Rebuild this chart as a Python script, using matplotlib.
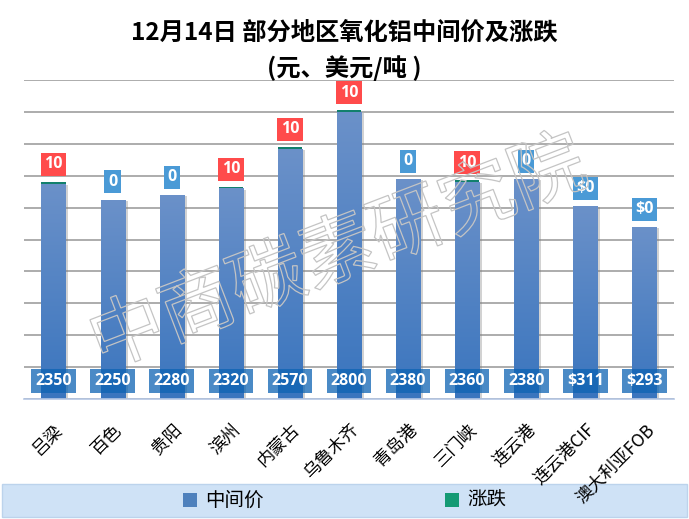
import matplotlib
matplotlib.use('Agg')
import matplotlib.pyplot as plt
import numpy as np
from matplotlib.patches import Rectangle, PathPatch
from matplotlib.textpath import TextPath
from matplotlib.font_manager import FontProperties
from matplotlib.transforms import Affine2D, ScaledTranslation
from matplotlib.colors import LinearSegmentedColormap
import matplotlib.patheffects as pe

CJK = ['Noto Sans CJK SC', 'DejaVu Sans']
NUM = ['Open Sans', 'DejaVu Sans']

categories = ['吕梁', '百色', '贵阳', '滨州', '内蒙古', '乌鲁木齐', '青岛港',
              '三门峡', '连云港', '连云港CIF', '澳大利亚FOB']
mid_values = [2350, 2250, 2280, 2320, 2570, 2800, 2380, 2360, 2380, 2210, 2080]
mid_labels = ['2350', '2250', '2280', '2320', '2570', '2800', '2380', '2360',
              '2380', '$311', '$293']
change_values = [10, 0, 0, 10, 10, 10, 0, 10, 0, 0, 0]
change_labels = ['10', '0', '0', '10', '10', '10', '0', '10', '0', '$0', '$0']
title_line1 = '12月14日 部分地区氧化铝中间价及涨跌'
title_line2 = '(元、美元/吨 )'
legend_labels = ['中间价', '涨跌']
watermark = '中商碳素研究院'

W, H = 689, 519
fig = plt.figure(figsize=(W / 100, H / 100), dpi=100)
fig.patch.set_facecolor('white')
ax = fig.add_axes([24 / W, 1 - 399 / H, 650 / W, 319 / H])
ax.set_zorder(1)
ax.patch.set_alpha(0)

x = np.arange(len(categories))
ymin, ymax = 1000, 3000

ax.set_yticks(np.arange(ymin, ymax + 1, 200))
ax.yaxis.grid(True, color='#a6a6a6', linewidth=1.3)
ax.set_axisbelow(True)
for s in ['left', 'right', 'top']:
    ax.spines[s].set_visible(False)
ax.spines['bottom'].set_color('#b4c6e4')
ax.spines['bottom'].set_linewidth(1.2)
ax.tick_params(axis='y', length=0, labelleft=False)
ax.tick_params(axis='x', length=0, pad=20)

bars = ax.bar(x, mid_values, width=0.41, color='#5484c4', zorder=2,
              path_effects=[pe.SimplePatchShadow(offset=(2, -1), shadow_rgbFace='#7f7f7f', alpha=0.35),
                            pe.Normal()])
cmap = LinearSegmentedColormap.from_list('barg', ['#3a75be', '#6b91c9'])
grad = np.linspace(0, 1, 256).reshape(-1, 1)
for b in bars:
    x0 = b.get_x()
    im = ax.imshow(grad, extent=(x0, x0 + b.get_width(), ymin, b.get_height()),
                   origin='lower', cmap=cmap, aspect='auto', zorder=2.1)
    im.set_clip_path(b)

ax.bar(x, change_values, bottom=mid_values, width=0.41, color='#12806c', zorder=3)

ax.set_xlim(-0.5, len(categories) - 0.5)
ax.set_ylim(ymin, ymax)

ax.set_xticks(x)
ax.set_xticklabels(categories, rotation=45, ha='right', va='center',
                   rotation_mode='anchor', fontsize=12.5, family=CJK)
off = ScaledTranslation(7 / 100, 0, fig.dpi_scale_trans)
for lab in ax.get_xticklabels():
    lab.set_transform(lab.get_transform() + off)

for i in range(len(categories)):
    col = '#ff4b4b' if change_values[i] > 0 else '#4a9ad6'
    ax.annotate(change_labels[i], (x[i], mid_values[i] + change_values[i]),
                xytext=(0, 7), textcoords='offset points', ha='center', va='bottom',
                color='white', fontsize=11.5, fontweight='bold', family=NUM,
                bbox=dict(boxstyle='square,pad=0.22', fc=col, ec='none'),
                annotation_clip=False, zorder=6)
    ax.annotate(mid_labels[i], (x[i], 0), xycoords=('data', 'axes fraction'),
                xytext=(0, 13), textcoords='offset points', ha='center', va='center',
                color='white', fontsize=11.5, fontweight='bold', family=NUM,
                bbox=dict(boxstyle='square,pad=0.25', fc=(0.05, 0.39, 0.70, 0.75), ec='none'),
                annotation_clip=False, zorder=6)

# title
fig.text(0.5, 1 - 33 / H, title_line1, ha='center', va='center', fontsize=17.5,
         fontweight='bold', family=CJK)
fig.text(0.5, 1 - 68 / H, title_line2, ha='center', va='center', fontsize=17.5,
         fontweight='bold', family=CJK)

# legend band (drawn beneath the axes so rotated labels sit on top of it)
fig.add_artist(Rectangle((2 / W, 2 / H), 685 / W, 33 / H, transform=fig.transFigure,
                         fc='#cfe2f6', ec='#bcd3ec', lw=1, zorder=-1))
leg_cols = ['#4f81bd', '#159a74']
leg_x = [183, 445]
for lx, lc, lt in zip(leg_x, leg_cols, legend_labels):
    fig.add_artist(Rectangle((lx / W, 1 - 507 / H), 14 / W, 14 / H, transform=fig.transFigure,
                             fc=lc, ec='none', zorder=-0.5))
    fig.text((lx + 22) / W, 1 - 500 / H, lt, ha='left', va='center', fontsize=14,
             fontweight='medium', family=CJK, zorder=-0.5)

# watermark
fp = FontProperties(family='Noto Sans CJK SC', weight='light')
tp = TextPath((0, 0), watermark, size=54, prop=fp)
ext = tp.get_extents()
cx, cy = (ext.x0 + ext.x1) / 2, (ext.y0 + ext.y1) / 2
tr = (Affine2D().translate(-cx, -cy).rotate_deg(21).scale(1 / 72)
      .translate(338 / 100, (H - 247) / 100) + fig.dpi_scale_trans)
fig.add_artist(PathPatch(tp, transform=tr, fc='none', ec='#c4c4c4', lw=0.9, zorder=10))

fig.savefig('out.png', dpi=100)
